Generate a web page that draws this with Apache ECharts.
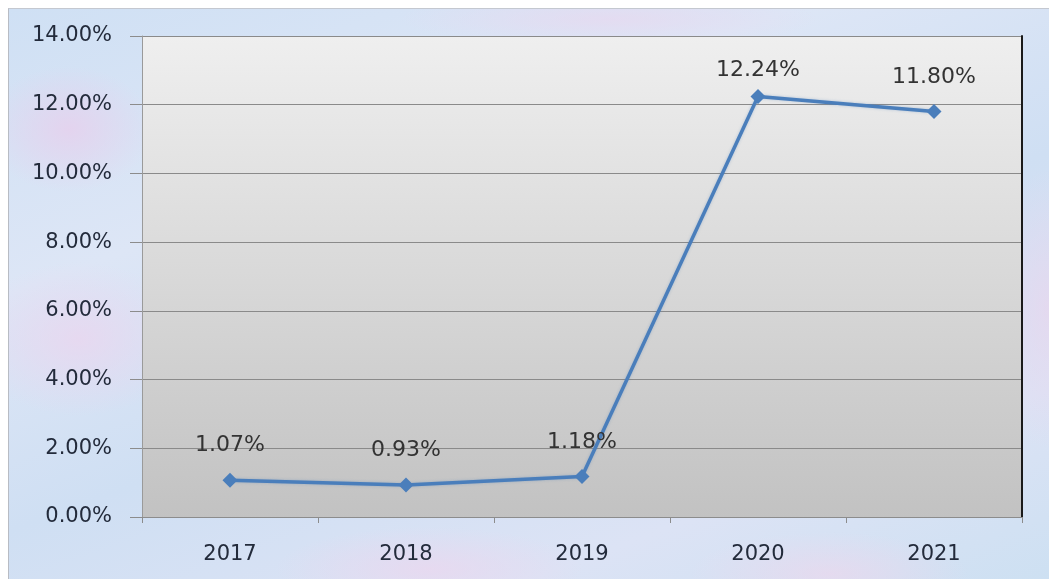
<!DOCTYPE html>
<html>
<head>
<meta charset="utf-8">
<script src="https://cdn.jsdelivr.net/npm/echarts@6/dist/echarts.min.js"></script>
<style>
  html, body { margin: 0; padding: 0; background: #ffffff; }
  #paper {
    position: absolute; left: 8px; top: 8px; right: 0; bottom: 0;
    border-left: 1px solid #b8bcc4; border-top: 1px solid #c4c8d0;
    background:
      radial-gradient(ellipse 120px 90px at 60px 120px, rgba(232,206,236,0.75), rgba(232,206,236,0) 70%),
      radial-gradient(ellipse 160px 110px at 70px 330px, rgba(236,212,238,0.7), rgba(236,212,238,0) 70%),
      radial-gradient(ellipse 220px 60px at 420px 560px, rgba(236,214,238,0.7), rgba(236,214,238,0) 70%),
      radial-gradient(ellipse 200px 60px at 820px 565px, rgba(240,214,236,0.6), rgba(240,214,236,0) 70%),
      radial-gradient(ellipse 90px 200px at 1040px 300px, rgba(236,212,236,0.6), rgba(236,212,236,0) 70%),
      radial-gradient(ellipse 300px 40px at 600px 10px, rgba(234,214,238,0.6), rgba(234,214,238,0) 70%),
      linear-gradient(160deg, #cfe0f4 0%, #dde6f6 30%, #cfdff3 55%, #dce3f5 80%, #cde0f2 100%);
  }
  #chart { position: absolute; left: 0; top: 0; width: 1049px; height: 579px; }
</style>
</head>
<body>
<div id="paper"></div>
<div id="chart"></div>
<script>
// Annual rate, percent
const years = ['2017', '2018', '2019', '2020', '2021'];
const rates = [1.07, 0.93, 1.18, 12.24, 11.80];
const yTicks = { min: 0, max: 14, step: 2 };

const lineBlue = '#4a7ebb';
const axisText = '#232b3b';
const font = '"DejaVu Sans", Verdana, sans-serif';

const chart = echarts.init(document.getElementById('chart'), null, { renderer: 'canvas' });

const seriesData = rates.map((v, i) => ({
  value: v,
  // the 2020 label sits a little closer to its point
  label: { distance: i === 3 ? 8 : 16 }
}));

chart.setOption({
  backgroundColor: 'transparent',
  animation: false,
  grid: {
    left: 142, right: 27, top: 36, bottom: 62,
    show: true,
    borderWidth: 0,
    backgroundColor: new echarts.graphic.LinearGradient(0, 0, 0, 1, [
      { offset: 0, color: '#efefef' },
      { offset: 1, color: '#c2c2c2' }
    ])
  },
  xAxis: {
    type: 'category',
    data: years,
    boundaryGap: true,
    axisLine: { show: true, lineStyle: { color: '#8c8c8c', width: 1 } },
    axisTick: { show: true, length: 6, alignWithLabel: false, lineStyle: { color: '#8c8c8c' } },
    axisLabel: { color: axisText, fontFamily: font, fontSize: 21, margin: 27 },
    splitLine: { show: false }
  },
  yAxis: [{
    type: 'value',
    min: yTicks.min, max: yTicks.max, interval: yTicks.step,
    axisLine: { show: true, lineStyle: { color: '#9a9a9a', width: 1 } },
    axisTick: { show: true, length: 12, lineStyle: { color: '#8c8c8c' } },
    axisLabel: {
      color: axisText, fontFamily: font, fontSize: 21, margin: 30,
      formatter: v => v.toFixed(2) + '%'
    },
    splitLine: { show: true, lineStyle: { color: '#8a8a8a', width: 1 } }
  }, {
    type: 'value',
    position: 'right',
    min: yTicks.min, max: yTicks.max, interval: yTicks.step,
    axisLine: { show: true, lineStyle: { color: '#1a1a1a', width: 2 } },
    axisTick: { show: false },
    axisLabel: { show: false },
    splitLine: { show: false }
  }],
  series: [{
    type: 'line',
    yAxisIndex: 0,
    data: seriesData,
    symbol: 'diamond',
    symbolSize: 15,
    lineStyle: { color: lineBlue, width: 3.5, shadowColor: 'rgba(74,126,187,0.35)', shadowBlur: 3 },
    itemStyle: { color: lineBlue },
    label: {
      show: true,
      position: 'top',
      color: '#333333',
      fontFamily: font,
      fontSize: 22,
      formatter: p => p.value.toFixed(2) + '%'
    }
  }]
});
</script>
</body>
</html>
